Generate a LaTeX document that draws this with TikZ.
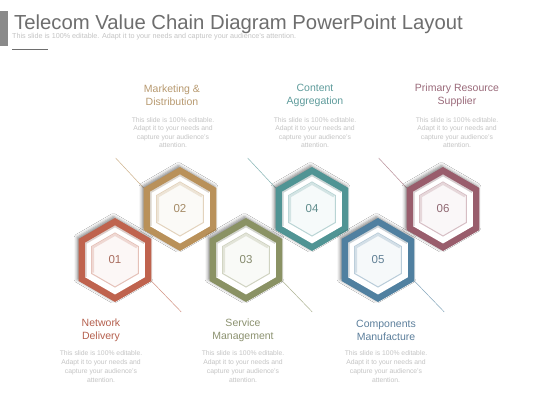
\documentclass[tikz,border=0pt]{standalone}
\usepackage{fontspec}
\setmainfont{Liberation Sans}
\usetikzlibrary{calc,shadows.blur}
\definecolor{cA}{RGB}{191,99,78}
\definecolor{cB}{RGB}{185,145,90}
\definecolor{cC}{RGB}{138,146,100}
\definecolor{cD}{RGB}{80,148,148}
\definecolor{cE}{RGB}{80,128,160}
\definecolor{cF}{RGB}{153,93,108}
\definecolor{tA}{RGB}{181,96,78}
\definecolor{tB}{RGB}{184,154,112}
\definecolor{tC}{RGB}{140,146,112}
\definecolor{tD}{RGB}{95,156,156}
\definecolor{tE}{RGB}{92,127,156}
\definecolor{tF}{RGB}{154,106,122}
\definecolor{titlegray}{RGB}{110,110,110}
\definecolor{descgray}{RGB}{196,196,196}
\definecolor{bargray}{RGB}{138,138,138}
\newcommand\hexshape[3]{\path[#3, shift={(#1)}] (90:#2) -- (150:#2) -- (210:#2) -- (270:#2) -- (330:#2) -- (30:#2) -- cycle;}
\newcommand\hexring[2]{%
  \hexshape{#1}{42}{fill=#2, blur shadow={shadow xshift=-1.6pt, shadow yshift=1.6pt, shadow blur radius=3pt, shadow opacity=45}}
  \hexshape{#1}{34.5}{fill=white}
  \path[draw=#2!60!black, draw opacity=0.25, line width=1.6pt, shift={(#1)}] (210:33.6) -- (150:33.6) -- (90:33.6) -- (30:33.6);
  \hexshape{#1}{27}{fill=#2!5, draw=#2!40, line width=1pt}
  \path[draw=#2!25, line width=2.2pt, shift={(#1)}] (210:25.3) -- (150:25.3) -- (90:25.3) -- (30:25.3);
}
\tikzset{
  ttl/.style={font=\fontsize{10.5}{13}\selectfont, align=center, inner sep=0pt},
  desc/.style={font=\fontsize{6.8}{8.5}\selectfont, align=center, inner sep=0pt, text=descgray},
  descb/.style={desc, font=\fontsize{6.8}{9}\selectfont},
  numlbl/.style={font=\fontsize{11.5}{13}\selectfont, inner sep=0pt},
  conn/.style={line width=0.5pt}
}
\begin{document}
\begin{tikzpicture}[x=1pt,y=1pt]
\useasboundingbox (0,0) rectangle (560,420);
\fill[white] (0,0) rectangle (560,420);
% header
\fill[bargray] (0,374) rectangle (8,409);
\node[anchor=base west, inner sep=0pt, text=titlegray, font=\fontsize{20.3}{24}\selectfont] (title) at (14,390) {Telecom Value Chain Diagram PowerPoint Layout};
\node[anchor=base west, inner sep=0pt, text=descgray, font=\fontsize{7.2}{8}\selectfont] (sub) at (12,381.4) {This slide is 100\% editable. Adapt it to your needs and capture your audience's attention.};
\coordinate (ulA) at (12,370.7);
\coordinate (ulB) at (48,370.7);
\draw[line width=1.3pt, titlegray] (ulA) -- (ulB);
% hex centres
\coordinate (h1) at (115,160);
\coordinate (h2) at (180,211);
\coordinate (h3) at (246,160);
\coordinate (h4) at (312,211);
\coordinate (h5) at (378,160);
\coordinate (h6) at (443,211);
% connector end points
\coordinate (v2) at ($(h2)+(150:42)$);
\coordinate (e2) at ($(v2)+(133:41)$);
\coordinate (v4) at ($(h4)+(150:42)$);
\coordinate (e4) at ($(v4)+(133:41)$);
\coordinate (v6) at ($(h6)+(150:42)$);
\coordinate (e6) at ($(v6)+(133:41)$);
\coordinate (v1) at ($(h1)+(330:42)$);
\coordinate (e1) at ($(v1)+(-46:43)$);
\coordinate (v3) at ($(h3)+(330:42)$);
\coordinate (e3) at ($(v3)+(-46:43)$);
\coordinate (v5) at ($(h5)+(330:42)$);
\coordinate (e5) at ($(v5)+(-46:43)$);
\draw[conn, cB!70] (v2) -- (e2);
\draw[conn, cD!70] (v4) -- (e4);
\draw[conn, cF!70] (v6) -- (e6);
\draw[conn, cA!70] (v1) -- (e1);
\draw[conn, cC!70] (v3) -- (e3);
\draw[conn, cE!70] (v5) -- (e5);
% hexagons
\hexring{h1}{cA}
\hexring{h2}{cB}
\hexring{h3}{cC}
\hexring{h4}{cD}
\hexring{h5}{cE}
\hexring{h6}{cF}
\node[numlbl, text=cA!65!gray] (n1) at (h1) {01};
\node[numlbl, text=cB!65!gray] (n2) at (h2) {02};
\node[numlbl, text=cC!65!gray] (n3) at (h3) {03};
\node[numlbl, text=cD!65!gray] (n4) at (h4) {04};
\node[numlbl, text=cE!65!gray] (n5) at (h5) {05};
\node[numlbl, text=cF!65!gray] (n6) at (h6) {06};
% top texts
\node[ttl, text=tB] (t2) at (172,324.5) {Marketing \&\\Distribution};
\node[ttl, text=tD] (t4) at (315,324.5) {Content\\Aggregation};
\node[ttl, text=tF] (t6) at (457,324.5) {Primary Resource\\Supplier};
\node[desc] (d2) at (173,287.5) {This slide is 100\% editable.\\Adapt it to your needs and\\capture your audience's\\attention.};
\node[desc] (d4) at (315,287.5) {This slide is 100\% editable.\\Adapt it to your needs and\\capture your audience's\\attention.};
\node[desc] (d6) at (457,287.5) {This slide is 100\% editable.\\Adapt it to your needs and\\capture your audience's\\attention.};
% bottom texts
\node[ttl, text=tA] (t1) at (101,89.5) {Network\\Delivery};
\node[ttl, text=tC] (t3) at (243,89.5) {Service\\Management};
\node[ttl, text=tE] (t5) at (386,89.5) {Components\\Manufacture};
\node[descb] (d1) at (101,53.5) {This slide is 100\% editable.\\Adapt it to your needs and\\capture your audience's\\attention.};
\node[descb] (d3) at (243,53.5) {This slide is 100\% editable.\\Adapt it to your needs and\\capture your audience's\\attention.};
\node[descb] (d5) at (386,53.5) {This slide is 100\% editable.\\Adapt it to your needs and\\capture your audience's\\attention.};
\end{tikzpicture}
\end{document}
